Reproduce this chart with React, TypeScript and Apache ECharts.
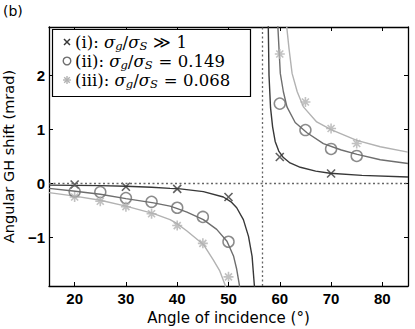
import React, { useEffect, useRef } from "react";
import * as echarts from "echarts";

// ---------- data ----------
const xTicks = [20, 30, 40, 50, 60, 70, 80];
const yTicks = [-1, 0, 1, 2];
const brewsterAngle = 56.5;

// measured points (markers)
const ptsI: [number, number][] = [
  [20, -0.02], [30, -0.06], [40, -0.1], [50, -0.25], [60, 0.49], [70, 0.185],
];
const ptsII: [number, number][] = [
  [20, -0.15], [25, -0.16], [30, -0.27], [35, -0.34], [40, -0.45], [45, -0.62], [50, -1.08],
  [60, 1.48], [65, 0.99], [70, 0.64], [75, 0.51],
];
const ptsIII: [number, number][] = [
  [20, -0.25], [25, -0.33], [30, -0.43], [35, -0.56], [40, -0.78], [45, -1.11], [50, -1.73],
  [60, 2.4], [65, 1.51], [70, 1.02], [75, 0.74],
];

// theory curves
const curveILeft: [number, number][] = [
  [15, -0.03], [20, -0.035], [25, -0.04], [30, -0.05], [35, -0.07], [38.6, -0.09], [40.6, -0.1],
  [45.1, -0.15], [49, -0.25], [50.5, -0.34], [51.6, -0.45], [52.9, -0.67], [53.9, -0.98],
  [54.6, -1.35], [55.0, -1.84], [55.1, -1.95],
];
const curveIRight: [number, number][] = [
  [57.75, 2.95], [57.9, 2.0], [58.2, 1.4], [58.6, 1.05], [59.1, 0.78], [59.8, 0.6], [60.7, 0.48],
  [62, 0.38], [64, 0.3], [67, 0.23], [69.8, 0.19], [76, 0.15], [85, 0.12],
];
const curveIILeft: [number, number][] = [
  [15, -0.09], [19.7, -0.14], [25, -0.2], [30, -0.28], [35.4, -0.36], [38.6, -0.42], [39.9, -0.46],
  [41.9, -0.53], [45.1, -0.67], [47.7, -0.85], [49.7, -1.07], [51, -1.35], [51.6, -1.59],
  [52.1, -1.87], [52.2, -1.95],
];
const curveIIRight: [number, number][] = [
  [59.6, 2.95], [60.1, 2.04], [60.7, 1.7], [61.4, 1.42], [63.0, 1.13], [65.3, 0.94], [68.5, 0.74],
  [72, 0.62], [75.1, 0.54], [79.6, 0.44], [85, 0.37],
];
const curveIIILeft: [number, number][] = [
  [15, -0.17], [19.7, -0.23], [25, -0.31], [30, -0.42], [35.4, -0.56], [38.6, -0.67], [39.9, -0.74],
  [41.9, -0.88], [45.1, -1.13], [47.0, -1.41], [48.3, -1.62], [49.3, -1.87], [49.5, -1.95],
];
const curveIIIRight: [number, number][] = [
  [61.3, 2.95], [61.8, 2.5], [62.4, 2.04], [63.4, 1.7], [64.6, 1.42], [67.2, 1.14], [70, 1.0],
  [75, 0.8], [79.6, 0.68], [85, 0.58],
];

const colI = "#383838";
const colII = "#6e6e6e";
const colIII = "#b2b2b2";

const symX = "path://M0,0L10,10M10,0L0,10";
const symStar = "path://M5,0L5,10M0,5L10,5M1.5,1.5L8.5,8.5M8.5,1.5L1.5,8.5";

export default function App() {
  const ref = useRef<HTMLDivElement>(null);
  useEffect(() => {
    if (!ref.current) return;
    const chart = echarts.init(ref.current, null, { renderer: "svg" });
    const lineS = (data: [number, number][], color: string) => ({
      type: "line",
      data,
      showSymbol: false,
      symbol: "none",
      lineStyle: { color, width: 1.4 },
      z: 2,
    });
    const fam = "DejaVu Serif";
    const rich = {
      t: { fontFamily: fam, fontSize: 16.5, color: "#000", lineHeight: 20, verticalAlign: "middle" },
      g: { fontFamily: fam, fontSize: 16.5, color: "#000", lineHeight: 20, verticalAlign: "middle", padding: [0, 2, 0, 6] },
      m: { fontFamily: fam, fontStyle: "italic", fontSize: 16.5, color: "#000", lineHeight: 20, verticalAlign: "middle" },
      s: { fontFamily: fam, fontStyle: "italic", fontSize: 11.5, color: "#000", lineHeight: 10, verticalAlign: "bottom" },
    };
    const legendRows = [
      { y: 42, text: "{t|(i): }{m|σ}{s|g}{t|/}{m|σ}{s|S}{g|≫} {t|1}" },
      { y: 61, text: "{t|(ii): }{m|σ}{s|g}{t|/}{m|σ}{s|S}{g|=} {t|0.149}" },
      { y: 80, text: "{t|(iii): }{m|σ}{s|g}{t|/}{m|σ}{s|S}{g|=} {t|0.068}" },
    ];
    const mx = 67;
    const axLine = { onZero: false, lineStyle: { color: "#000", width: 1.3 } };
    const option: any = {
      animation: false,
      grid: { left: 49, right: 7, top: 27, bottom: 43, outerBoundsMode: "none" },
      xAxis: [
        {
          type: "value", min: 15, max: 85, position: "bottom",
          axisLine: axLine,
          axisTick: { inside: true, length: 4, customValues: xTicks, lineStyle: { color: "#000" } },
          axisLabel: { customValues: xTicks, color: "#000", fontWeight: "bold", fontSize: 15, fontFamily: "Liberation Sans", margin: 5 },
          splitLine: { show: false },
          name: "Angle of incidence (°)", nameLocation: "middle", nameGap: 12,
          nameTextStyle: { fontFamily: "DejaVu Sans", fontSize: 15, color: "#000" },
        },
        {
          type: "value", min: 15, max: 85, position: "top",
          axisLine: axLine,
          axisTick: { inside: true, length: 4, customValues: xTicks, lineStyle: { color: "#000" } },
          axisLabel: { show: false }, splitLine: { show: false },
        },
      ],
      yAxis: [
        {
          type: "value", min: -1.9, max: 2.9, position: "left",
          axisLine: axLine,
          axisTick: { inside: true, length: 4, customValues: yTicks, lineStyle: { color: "#000" } },
          axisLabel: {
            customValues: yTicks, color: "#000", fontWeight: "bold", fontSize: 15, fontFamily: "Liberation Sans", margin: 4,
            formatter: (v: number) => (v < 0 ? "−" + Math.abs(v) : String(v)),
          },
          splitLine: { show: false },
          name: "Angular GH shift (mrad)", nameLocation: "middle", nameGap: 26, nameRotate: 90,
          nameTextStyle: { fontFamily: "DejaVu Sans", fontSize: 14.5, color: "#000" },
        },
        {
          type: "value", min: -1.9, max: 2.9, position: "right",
          axisLine: axLine,
          axisTick: { inside: true, length: 4, customValues: yTicks, lineStyle: { color: "#000" } },
          axisLabel: { show: false }, splitLine: { show: false },
        },
      ],
      series: [
        {
          type: "line", data: [], symbol: "none",
          markLine: {
            silent: true, symbol: "none", label: { show: false },
            lineStyle: { color: "#666", type: [2, 2.5], width: 1.3 },
            data: [{ xAxis: brewsterAngle }, { yAxis: 0 }],
          },
        },
        lineS(curveILeft, colI), lineS(curveIRight, colI),
        lineS(curveIILeft, colII), lineS(curveIIRight, colII),
        lineS(curveIIILeft, colIII), lineS(curveIIIRight, colIII),
        {
          type: "scatter", name: "(i)", data: ptsI, symbol: symX, symbolSize: 8, z: 3,
          itemStyle: { color: "rgba(0,0,0,0)", borderColor: colI, borderWidth: 1.6 },
        },
        {
          type: "scatter", name: "(ii)", data: ptsII, symbol: "circle", symbolSize: 11, z: 3,
          itemStyle: { color: "rgba(0,0,0,0)", borderColor: colII, borderWidth: 1.5 },
        },
        {
          type: "scatter", name: "(iii)", data: ptsIII, symbol: symStar, symbolSize: 10, z: 3,
          itemStyle: { color: "rgba(0,0,0,0)", borderColor: colIII, borderWidth: 1.6 },
        },
      ],
      graphic: [
        { type: "text", left: 3, top: 4, style: { text: "(b)", fontFamily: "DejaVu Sans", fontSize: 14, fill: "#000" } },
        {
          type: "rect", z: 10,
          shape: { x: 52.5, y: 29.5, width: 198, height: 67 },
          style: { fill: "#fff", stroke: "#000", lineWidth: 1.2 },
        },
        { type: "line", z: 11, shape: { x1: mx - 3, y1: 42 - 3, x2: mx + 3, y2: 42 + 3 }, style: { stroke: colI, lineWidth: 1.5 } },
        { type: "line", z: 11, shape: { x1: mx + 3, y1: 42 - 3, x2: mx - 3, y2: 42 + 3 }, style: { stroke: colI, lineWidth: 1.5 } },
        { type: "circle", z: 11, shape: { cx: mx, cy: 61, r: 3.8 }, style: { fill: "none", stroke: colII, lineWidth: 1.4 } },
        { type: "line", z: 11, shape: { x1: mx, y1: 80 - 4, x2: mx, y2: 80 + 4 }, style: { stroke: colIII, lineWidth: 1.4 } },
        { type: "line", z: 11, shape: { x1: mx - 4, y1: 80, x2: mx + 4, y2: 80 }, style: { stroke: colIII, lineWidth: 1.4 } },
        { type: "line", z: 11, shape: { x1: mx - 2.8, y1: 77.2, x2: mx + 2.8, y2: 82.8 }, style: { stroke: colIII, lineWidth: 1.4 } },
        { type: "line", z: 11, shape: { x1: mx + 2.8, y1: 77.2, x2: mx - 2.8, y2: 82.8 }, style: { stroke: colIII, lineWidth: 1.4 } },
        ...legendRows.map((r) => ({
          type: "text", z: 11, x: 75, y: r.y,
          style: { text: r.text, rich, verticalAlign: "middle", align: "left" },
        })),
      ],
    };
    chart.setOption(option);
    return () => chart.dispose();
  }, []);
  return <div ref={ref} style={{ width: 415, height: 329, position: "absolute", left: 0, top: 0 }} />;
}
